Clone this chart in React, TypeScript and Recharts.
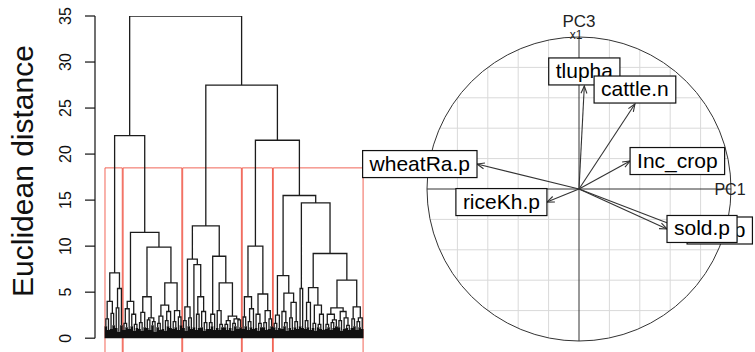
import React from 'react';
import {
  ComposedChart,
  Line,
  Scatter,
  XAxis,
  YAxis,
  ReferenceArea,
  ReferenceLine,
  ReferenceDot,
} from 'recharts';

const FONT = '"Liberation Sans", Arial, Helvetica, sans-serif';

// Ward clusters of the dendrogram, written as nested "(left,right)height" groups.
// A bare number is a leaf and holds the height of the little bush standing on it.
const clusterA = '(((1.3,0.9)2.1,(1.0,1.4)2.7)4.0,((1.1,0.7)3.3,1.4)5.4)7.1';
const clusterB =
  '((((0.9,1.2)1.6,1.0)3.2,(1.3,(0.8,1.1)1.5)2.6)4.0,((((1.0,0.8)1.7,1.2)2.8,((1.1,0.9)2.0,(1.4,0.7)1.8)2.2)4.5,((((1.2,0.9)1.6,1.0)2.4,((0.8,1.3)1.9,1.1)2.9)3.6,((1.0,1.2)1.8,(0.9,1.4)2.3)3.0)6.0)9.9)11.5';
const clusterC =
  '((((1.1,0.8)1.9,(1.3,1.0)2.2)3.4,(1.2,((0.9,1.1)2.6,(1.2,(0.8,1.0)1.7)2.9)4.5)8.0)8.6,(((1.0,1.3)1.7,0.9)2.6,((1.1,(0.9,1.2)1.5)3.0,(((1.2,0.9)1.5,1.1)1.9,((0.8,1.3)1.6,(1.0,1.2)2.0)2.1)2.4)6.0)8.9)12.2';
const clusterD =
  '(((1.0,1.3)2.3,((0.9,1.2)1.8,1.0)3.2)4.5,((1.1,(0.8,1.2)1.6)2.6,((1.2,0.9)1.7,(1.0,1.3)2.1)3.0)4.8)10.0';
const clusterE =
  '((((1.2,0.9)1.6,1.1)2.5,((1.0,(1.3,0.8)1.7)2.9,((1.1,0.9)2.2,(1.2,1.0)1.8)3.9)4.9)6.8,((1.3,1.1)5.4,((((1.0,1.2)1.9,0.9)3.9,((1.1,0.8)1.6,((1.2,1.0)1.5,0.9)2.6)3.6)5.5,((((1.0,1.2)1.5,((0.9,1.1)1.7,1.3)2.0)2.6,((1.2,0.8)1.9,(1.0,(1.1,0.9)1.4)2.2)2.9)3.3,((1.1,1.3)2.1,((0.9,1.2)1.8,1.0)2.2)3.4)6.3)9.2)14.7)15.5';

// merges above the clusters: (A,B), (D,E), (C,DE), root
const upperHeights = [22.0, 21.5, 27.5, 35.0];
const clusterCount = 5;
const distanceTicks = [0, 5, 10, 15, 20, 25, 30, 35];

// correlation circle (PC1 vs PC3)
const varNames = ['tlupha', 'cattle.n', 'Inc_crop', 'wheatRa.p', 'riceKh.p', 'rice.p', 'sold.p'];
const pc1 = [0.035, 0.368, 0.336, -0.671, -0.211, 0.711, 0.579];
const pc3 = [0.678, 0.559, 0.184, 0.164, -0.086, -0.273, -0.263];
const gridSteps = [-0.8, -0.6, -0.4, -0.2, 0.2, 0.4, 0.6, 0.8];

type TreeNode = { h: number; mass: number; kids: TreeNode[]; x: number; size: number };

function parseTree(src: string): TreeNode {
  let pos = 0;
  const readNumber = () => {
    const start = pos;
    while (pos < src.length && /[0-9.]/.test(src[pos])) pos++;
    return parseFloat(src.slice(start, pos));
  };
  const readNode = (): TreeNode => {
    if (src[pos] === '(') {
      pos++;
      const kids = [readNode()];
      while (src[pos] === ',') {
        pos++;
        kids.push(readNode());
      }
      pos++; // ')'
      return { h: readNumber(), mass: 0, kids, x: 0, size: 0 };
    }
    return { h: 0, mass: readNumber(), kids: [], x: 0, size: 1 };
  };
  return readNode();
}

function placeLeaves(node: TreeNode, counter: { i: number }) {
  if (!node.kids.length) {
    node.x = ++counter.i;
    return;
  }
  node.kids.forEach((k) => placeLeaves(k, counter));
  node.x = node.kids.reduce((s, k) => s + k.x, 0) / node.kids.length;
  node.size = node.kids.reduce((s, k) => s + k.size, 0);
}

const top = (n: TreeNode) => (n.kids.length ? n.h : n.mass);

function collect(node: TreeNode, leaves: TreeNode[], path: any[], heights: number[]) {
  if (!node.kids.length) {
    leaves.push(node);
    return;
  }
  heights.push(node.h);
  const [a, b] = node.kids;
  path.push(
    { x: a.x, y: top(a) },
    { x: a.x, y: node.h },
    { x: b.x, y: node.h },
    { x: b.x, y: top(b) },
    { x: b.x, y: null },
  );
  node.kids.forEach((k) => collect(k, leaves, path, heights));
}

function cutTree(node: TreeNode, cut: number, out: TreeNode[]) {
  if (node.kids.length && node.h > cut) node.kids.forEach((k) => cutTree(k, cut, out));
  else out.push(node);
}

const [hAB, hDE, hCDE, hRoot] = upperHeights;
const root = parseTree(
  `((${clusterA},${clusterB})${hAB},(${clusterC},(${clusterD},${clusterE})${hDE})${hCDE})${hRoot}`,
);
placeLeaves(root, { i: 0 });

const leafNodes: TreeNode[] = [];
const treePath: any[] = [];
const mergeHeights: number[] = [];
collect(root, leafNodes, treePath, mergeHeights);

// the dense bushes at the foot of the tree, one thick stroke per leaf
const bushPath = leafNodes.flatMap((l) => [
  { x: l.x, y: 0 },
  { x: l.x, y: l.mass },
  { x: l.x, y: null },
]);

// rect.hclust style boxes around the k clusters
const sortedHeights = [...mergeHeights].sort((a, b) => b - a);
const cutHeight = (sortedHeights[clusterCount - 2] + sortedHeights[clusterCount - 1]) / 2;
const clusters: TreeNode[] = [];
cutTree(root, cutHeight, clusters);
let before = 0;
const clusterBoxes = clusters.map((c) => {
  const box = { x1: before + 0.66, x2: before + c.size + 0.33 };
  before += c.size;
  return box;
});

const DENDRO_W = 370;
const Y_AXIS_W = 95;
const X_MIN = -3.2;
const X_MAX = 103.0;
const LEAF_PX = (DENDRO_W - Y_AXIS_W) / (X_MAX - X_MIN);

const DistanceTick = ({ x, y, payload }: any) => (
  <text
    transform={`translate(${x - 12},${y}) rotate(-90)`}
    textAnchor="middle"
    fontSize={16}
    fontFamily={FONT}
    fill="#111"
  >
    {payload.value}
  </text>
);

const DistanceTitle = () => (
  <text
    transform="translate(33,171) rotate(-90)"
    textAnchor="middle"
    fontSize={30}
    fontFamily={FONT}
    fill="#111"
  >
    Euclidean distance
  </text>
);

// correlation circle geometry
const PCA_W = 400;
const PCA_H = 352;
const pcaMargin = { top: 37, right: 24, bottom: 11, left: 72 };
const R_PX = (PCA_W - pcaMargin.left - pcaMargin.right) / 2;
const loadings = varNames.map((name, i) => ({ name, x: pc1[i], y: pc3[i] }));

const ArrowShape = ({ x1, y1, x2, y2 }: any) => {
  const ang = Math.atan2(y2 - y1, x2 - x1);
  const len = 8;
  const spread = 0.38;
  const a = [x2 - len * Math.cos(ang - spread), y2 - len * Math.sin(ang - spread)];
  const b = [x2 - len * Math.cos(ang + spread), y2 - len * Math.sin(ang + spread)];
  return (
    <g>
      <line x1={x1} y1={y1} x2={x2} y2={y2} stroke="#333" strokeWidth={1.1} />
      <polyline points={`${a[0]},${a[1]} ${x2},${y2} ${b[0]},${b[1]}`} fill="none" stroke="#333" strokeWidth={1.1} />
    </g>
  );
};

let measureCtx: CanvasRenderingContext2D | null = null;
const measure = (text: string, size: number) => {
  if (!measureCtx) measureCtx = document.createElement('canvas').getContext('2d');
  if (!measureCtx) return text.length * size * 0.55;
  measureCtx.font = `${size}px "Liberation Sans"`;
  return measureCtx.measureText(text).width;
};

const LabelBox = ({ cx, cy, payload }: any) => {
  const fs = 21;
  const w = measure(payload.name, fs) + 14;
  const h = 27;
  let left: number;
  let topY: number;
  if (Math.abs(payload.x) >= Math.abs(payload.y)) {
    left = payload.x >= 0 ? cx : cx - w;
    topY = cy - h / 2;
  } else {
    left = cx - w / 2;
    topY = payload.y >= 0 ? cy - h - 1 : cy + 1;
  }
  return (
    <g>
      <rect x={left} y={topY} width={w} height={h} fill="#fff" stroke="#111" strokeWidth={1.2} />
      <text x={left + w / 2} y={topY + 20} textAnchor="middle" fontSize={fs} fontFamily={FONT} fill="#000">
        {payload.name}
      </text>
    </g>
  );
};

const axisText = (text: string, dx: number, dy: number, size: number) => (p: any) => (
  <text x={p.cx + dx} y={p.cy + dy} textAnchor="middle" fontSize={size} fontFamily={FONT} fill="#222">
    {text}
  </text>
);

export default function App() {
  return (
    <div style={{ position: 'absolute', left: 0, top: 0, width: 755, height: 352, background: '#fff' }}>
      <div style={{ position: 'absolute', left: 0, top: 0 }}>
        <ComposedChart width={DENDRO_W} height={352} margin={{ top: 16, right: 0, bottom: 0, left: 0 }}>
          <XAxis type="number" dataKey="x" domain={[X_MIN, X_MAX]} hide allowDataOverflow />
          <YAxis
            type="number"
            dataKey="y"
            domain={[-1.5, 35]}
            ticks={distanceTicks}
            width={Y_AXIS_W}
            axisLine={false}
            tickSize={10}
            tickLine={{ stroke: '#111', strokeWidth: 1.2 }}
            tick={<DistanceTick />}
            allowDataOverflow
            label={DistanceTitle}
          />
          <Line
            data={bushPath}
            dataKey="y"
            stroke="#111"
            strokeWidth={LEAF_PX}
            strokeLinecap="butt"
            dot={false}
            activeDot={false}
            connectNulls={false}
            isAnimationActive={false}
          />
          <Line
            data={treePath}
            dataKey="y"
            stroke="#1c1c1c"
            strokeWidth={1.3}
            dot={false}
            activeDot={false}
            connectNulls={false}
            isAnimationActive={false}
          />
          <ReferenceLine
            segment={[{ x: X_MIN, y: 0 }, { x: X_MIN, y: 35 }]}
            stroke="#111"
            strokeWidth={1.2}
            ifOverflow="visible"
          />
          {clusterBoxes.map((b, i) => (
            <ReferenceArea
              key={i}
              x1={b.x1}
              x2={b.x2}
              y1={-3}
              y2={cutHeight}
              fill="none"
              stroke="#ee4a3a"
              strokeOpacity={0.85}
              strokeWidth={1}
              ifOverflow="hidden"
            />
          ))}
        </ComposedChart>
      </div>
      <div style={{ position: 'absolute', left: 355, top: 0 }}>
        <ComposedChart width={PCA_W} height={PCA_H} margin={pcaMargin}>
          <XAxis type="number" dataKey="x" domain={[-1, 1]} hide />
          <YAxis type="number" dataKey="y" domain={[-1, 1]} hide />
          {gridSteps.map((v) => {
            const e = Math.sqrt(1 - v * v);
            return (
              <React.Fragment key={v}>
                <ReferenceLine segment={[{ x: v, y: -e }, { x: v, y: e }]} stroke="#d9d9d9" strokeWidth={1} />
                <ReferenceLine segment={[{ x: -e, y: v }, { x: e, y: v }]} stroke="#d9d9d9" strokeWidth={1} />
              </React.Fragment>
            );
          })}
          <ReferenceDot x={0} y={0} r={R_PX} fill="none" stroke="#333" strokeWidth={1} />
          <ReferenceLine segment={[{ x: -1, y: 0 }, { x: 1, y: 0 }]} stroke="#333" strokeWidth={1} />
          <ReferenceLine segment={[{ x: 0, y: -1 }, { x: 0, y: 1 }]} stroke="#333" strokeWidth={1} />
          {loadings.map((l) => (
            <ReferenceLine key={l.name} segment={[{ x: 0, y: 0 }, { x: l.x, y: l.y }]} shape={ArrowShape} />
          ))}
          <ReferenceDot x={1} y={0} r={0} ifOverflow="visible" shape={axisText('PC1', -1, 6, 16)} />
          <ReferenceDot x={0} y={1} r={0} ifOverflow="visible" shape={axisText('PC3', 0, -10, 17)} />
          <ReferenceDot x={0} y={1} r={0} ifOverflow="visible" shape={axisText('x1', -3, 2, 12)} />
          <Scatter data={loadings} shape={LabelBox} isAnimationActive={false} />
        </ComposedChart>
      </div>
    </div>
  );
}
